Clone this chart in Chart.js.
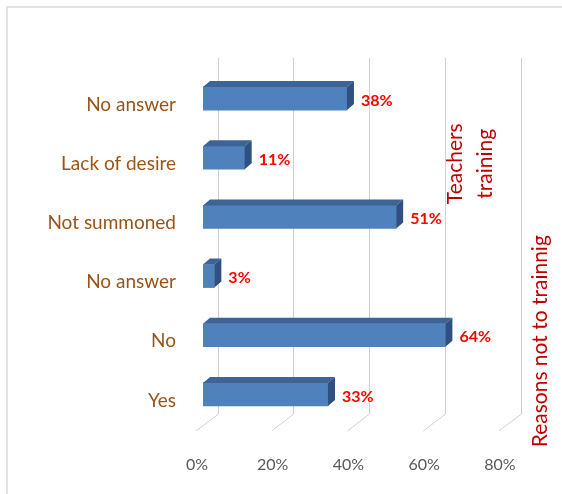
<!DOCTYPE html>
<html><head><meta charset="utf-8">
<style>
html,body{margin:0;padding:0;background:#fff;}
#wrap{position:absolute;left:0;top:0;width:562px;height:494px;overflow:hidden;}
#frame{position:absolute;left:6px;top:6px;width:556px;height:488px;border-left:2px solid #e3e3e3;border-top:2px solid #e3e3e3;box-sizing:border-box;}
canvas{position:absolute;left:0;top:0;}
</style>
<script src="https://cdn.jsdelivr.net/npm/chart.js@4.4.1/dist/chart.umd.min.js"></script>
</head><body>
<div id="wrap"><div id="frame"></div><canvas id="c" width="562" height="494"></canvas></div>
<script>
const categories = ['No answer', 'Lack of desire', 'Not summoned', 'No answer', 'No', 'Yes'];
const values = [38, 11, 51, 3, 64, 33];
const xTicks = [0, 20, 40, 60, 80];
const groupTop = ['Teachers', 'training'];
const groupBottom = ['Reasons not to trainnig'];

const DX = 7, DY = 6;
const FONT = 'Lato, "Open Sans", sans-serif';

const threeD = {
  id: 'threeD',
  beforeDatasetsDraw(chart) {
    const { ctx, chartArea: a, scales: { x } } = chart;
    ctx.save();
    ctx.strokeStyle = '#d0d0d0';
    ctx.lineWidth = 1;
    xTicks.forEach(v => {
      const px = x.getPixelForValue(v);
      const bx = Math.round(px + 14.5) + 0.5;
      ctx.beginPath();
      ctx.moveTo(bx, a.top - 11);
      ctx.lineTo(bx, a.bottom - 10);
      ctx.lineTo(px - 7, a.bottom + 7);
      ctx.stroke();
    });
    ctx.restore();
  },
  afterDatasetsDraw(chart) {
    const { ctx } = chart;
    const meta = chart.getDatasetMeta(0);
    ctx.save();
    meta.data.forEach((bar, i) => {
      const p = bar.getProps(['x', 'y', 'base', 'height'], true);
      const t = p.y - p.height / 2, b = p.y + p.height / 2;
      ctx.fillStyle = '#3D6494';
      ctx.beginPath();
      ctx.moveTo(p.base, t);
      ctx.lineTo(p.base + DX, t - DY);
      ctx.lineTo(p.x + DX, t - DY);
      ctx.lineTo(p.x, t);
      ctx.closePath();
      ctx.fill();
      ctx.fillStyle = '#2F5080';
      ctx.beginPath();
      ctx.moveTo(p.x, t);
      ctx.lineTo(p.x + DX, t - DY);
      ctx.lineTo(p.x + DX, b - DY);
      ctx.lineTo(p.x, b);
      ctx.closePath();
      ctx.fill();
      ctx.fillStyle = '#FF0000';
      ctx.font = 'bold 16px ' + FONT;
      ctx.textAlign = 'left';
      ctx.textBaseline = 'middle';
      ctx.fillText(values[i] + '%', p.x + 14, p.y + 2);
    });
    ctx.restore();
  },
  afterDraw(chart) {
    const { ctx, chartArea: a, scales: { y } } = chart;
    ctx.save();
    ctx.fillStyle = '#C00000';
    ctx.font = '21px ' + FONT;
    ctx.textAlign = 'center';
    ctx.textBaseline = 'middle';
    const y1 = (y.getPixelForValue(0) + y.getPixelForValue(2)) / 2 + 6;
    ctx.save();
    ctx.translate(a.right - 36, y1);
    ctx.rotate(-Math.PI / 2);
    groupTop.forEach((s, k) => ctx.fillText(s, 0, (k - 0.5) * 30));
    ctx.restore();
    const y2 = (y.getPixelForValue(3) + y.getPixelForValue(5)) / 2 + 6;
    ctx.save();
    ctx.translate(a.right + 34, y2);
    ctx.rotate(-Math.PI / 2);
    groupBottom.forEach((s, k) => ctx.fillText(s, 0, k * 30));
    ctx.restore();
    ctx.restore();
  }
};

new Chart(document.getElementById('c'), {
  type: 'bar',
  data: {
    labels: categories,
    datasets: [{ data: values, backgroundColor: '#4F81BD', borderWidth: 0, barThickness: 23 }]
  },
  options: {
    indexAxis: 'y',
    responsive: false,
    devicePixelRatio: 1,
    animation: false,
    layout: { padding: { top: 69, right: 56, left: 0, bottom: 0 } },
    plugins: { legend: { display: false }, tooltip: { enabled: false } },
    scales: {
      x: {
        min: 0, max: 80,
        afterBuildTicks: s => { s.ticks = xTicks.map(v => ({ value: v })); },
        ticks: { callback: v => v + '%', color: '#595959', font: { family: FONT, size: 16 }, labelOffset: -6, padding: 31, maxRotation: 0 },
        grid: { display: false, drawTicks: false },
        border: { display: false },
        afterFit: s => { s.height = 70; }
      },
      y: {
        ticks: { color: '#9A5418', font: { family: FONT, size: 19 }, labelOffset: 6, padding: 27 },
        grid: { display: false, drawTicks: false },
        border: { display: false },
        afterFit: s => { s.width = 203; }
      }
    }
  },
  plugins: [threeD]
});
</script>
</body></html>
